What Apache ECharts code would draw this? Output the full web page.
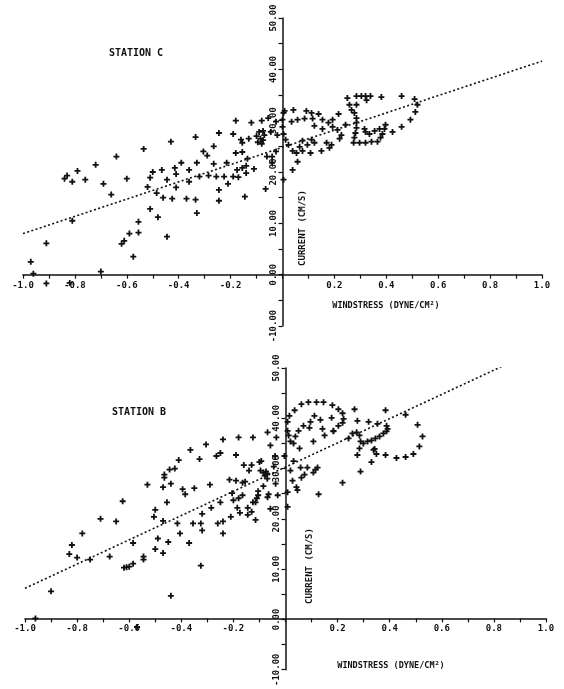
<!DOCTYPE html>
<html>
<head>
<meta charset="utf-8">
<script src="https://cdn.jsdelivr.net/npm/echarts@6/dist/echarts.min.js"></script>
<style>
	html, body { margin: 0; padding: 0; background: #fff; }
	#chart { width: 564px; height: 689px; }
</style>
</head>
<body>
<div id="chart"></div>
<script>
// tick labels
const xTickLabels = ['-1.0', '-0.8', '-0.6', '-0.4', '-0.2', '0.2', '0.4', '0.6', '0.8', '1.0'];
const yTickLabels = ['-10.00', '0.00', '10.00', '20.00', '30.00', '40.00', '50.00'];

// station C : [windstress, current]
const stationC = [
	[-0.97, 2.5], [-0.91, 6.1], [-0.96, 0.2], [-0.91, -1.7], [-0.82, -1.6], [-0.70, 0.6],
	[-0.81, 10.5], [-0.84, 18.7], [-0.83, 19.3], [-0.81, 18.1], [-0.79, 20.2], [-0.76, 18.5], [-0.72, 21.4],
	[-0.69, 17.7], [-0.66, 15.6], [-0.64, 23.0], [-0.60, 18.7],
	[-0.62, 6.0], [-0.61, 6.6], [-0.59, 8.0], [-0.555, 10.3], [-0.555, 8.2], [-0.575, 3.5],
	[-0.535, 24.5], [-0.52, 17.1], [-0.51, 18.9], [-0.50, 20.0], [-0.51, 12.8], [-0.48, 11.2], [-0.485, 15.9],
	[-0.465, 20.4], [-0.46, 15.0], [-0.445, 18.5], [-0.445, 7.4], [-0.43, 25.9], [-0.425, 14.8], [-0.41, 19.6],
	[-0.41, 17.0], [-0.415, 20.8], [-0.39, 21.8], [-0.37, 14.8], [-0.36, 20.4], [-0.36, 18.1], [-0.335, 26.8],
	[-0.335, 14.6], [-0.33, 12.0], [-0.33, 21.8], [-0.32, 19.1], [-0.305, 24.0], [-0.29, 23.2], [-0.285, 19.3],
	[-0.265, 25.0], [-0.265, 21.6], [-0.255, 19.1], [-0.245, 27.6], [-0.245, 16.5], [-0.245, 14.4], [-0.225, 19.1],
	[-0.215, 21.8], [-0.21, 17.7], [-0.19, 27.4], [-0.19, 19.1], [-0.18, 30.0], [-0.18, 23.7], [-0.175, 20.4],
	[-0.17, 19.0], [-0.16, 26.3], [-0.155, 25.7], [-0.155, 23.9], [-0.155, 20.8], [-0.14, 21.2], [-0.145, 15.2],
	[-0.14, 19.8], [-0.135, 22.6], [-0.13, 26.5], [-0.12, 29.6], [-0.11, 20.6],
	[-0.10, 27.0], [-0.09, 27.8], [-0.085, 26.5], [-0.08, 25.5], [-0.075, 26.2], [-0.07, 27.2], [-0.075, 28.0], [-0.095, 25.8],
	[-0.08, 30.0], [-0.065, 16.7], [-0.06, 23.0], [-0.055, 30.5], [-0.045, 27.8], [-0.04, 21.8], [-0.04, 23.0],
	[-0.025, 24.0], [-0.02, 27.2], [-0.025, 29.8],
	[0.008, 31.9], [0.042, 32.1], [0.092, 31.9], [0.112, 31.5], [0.139, 31.3], [0.216, 31.3], [0.035, 29.8],
	[0.058, 30.2], [0.085, 30.4], [0.116, 30.4], [0.154, 30.2], [0.193, 30.2], [0.177, 29.6], [0.243, 29.2],
	[0.123, 29.0], [0.154, 28.4], [0.193, 28.8], [0.212, 28.2], [0.227, 27.2], [0.22, 26.5], [0.077, 26.1],
	[0.112, 26.3], [0.123, 25.7], [0.096, 25.3], [0.066, 24.9], [0.17, 25.7], [0.189, 25.3], [0.181, 24.7],
	[0.15, 24.1], [0.108, 23.7], [0.077, 24.1], [0.054, 23.7], [0.039, 24.1], [0.058, 22.0], [0.039, 20.4], [0.004, 18.5],
	[0.004, 31.5], [0.0, 30.2], [0.0, 28.8], [0.004, 27.4], [0.012, 26.3], [0.023, 25.3],
	[0.25, 34.4], [0.258, 33.1], [0.266, 32.1], [0.277, 31.5], [0.285, 30.5], [0.285, 29.6], [0.285, 28.6],
	[0.281, 27.6], [0.277, 26.7], [0.274, 25.7], [0.297, 25.7], [0.32, 25.7], [0.343, 25.9], [0.366, 25.9],
	[0.378, 26.7], [0.385, 27.4], [0.393, 28.4], [0.397, 29.2],
	[0.285, 34.8], [0.304, 34.8], [0.32, 34.8], [0.339, 34.8], [0.324, 34.0], [0.285, 33.1], [0.381, 34.6],
	[0.459, 34.8], [0.509, 34.2], [0.52, 33.1], [0.512, 31.7], [0.493, 30.2], [0.459, 28.8], [0.424, 27.8],
	[0.374, 28.4], [0.355, 28.0], [0.32, 27.8], [0.335, 27.4], [0.316, 28.4],
];

// station B : [windstress, current]
const stationB = [
	[-0.96, 0.2], [-0.57, -1.5],
	[-0.90, 5.6], [-0.82, 14.8], [-0.83, 13.0], [-0.80, 12.3], [-0.78, 17.1], [-0.75, 11.9], [-0.71, 20.0],
	[-0.675, 12.5], [-0.65, 19.5], [-0.625, 23.5], [-0.62, 10.3], [-0.61, 10.4], [-0.60, 10.5], [-0.585, 11.1],
	[-0.585, 15.2], [-0.545, 11.9], [-0.545, 12.5], [-0.53, 26.8], [-0.505, 20.4], [-0.50, 21.8], [-0.50, 14.0],
	[-0.49, 16.1], [-0.47, 19.6], [-0.47, 13.2], [-0.47, 26.3], [-0.465, 28.8], [-0.465, 28.2], [-0.455, 23.3],
	[-0.45, 15.4], [-0.445, 29.8], [-0.425, 30.0], [-0.44, 4.7], [-0.44, 27.0], [-0.415, 19.1], [-0.41, 31.7],
	[-0.405, 17.1], [-0.395, 25.9], [-0.385, 24.9], [-0.365, 33.7], [-0.37, 15.2], [-0.355, 19.1], [-0.35, 26.1],
	[-0.33, 31.9], [-0.325, 10.7], [-0.325, 19.1], [-0.32, 17.7], [-0.32, 21.0], [-0.305, 34.8], [-0.29, 26.8],
	[-0.285, 22.2], [-0.265, 32.5], [-0.26, 19.1], [-0.25, 33.1], [-0.25, 23.3], [-0.24, 17.1], [-0.24, 19.5],
	[-0.24, 35.8], [-0.215, 27.8], [-0.21, 20.4], [-0.205, 25.1], [-0.20, 23.7], [-0.19, 32.7], [-0.19, 27.6],
	[-0.18, 36.2], [-0.185, 22.2], [-0.175, 21.2], [-0.18, 24.1], [-0.165, 24.7], [-0.165, 27.2], [-0.155, 27.4],
	[-0.145, 22.2], [-0.145, 20.8], [-0.16, 30.7], [-0.14, 29.6], [-0.13, 21.4], [-0.125, 23.3], [-0.13, 30.7],
	[-0.125, 36.2], [-0.115, 19.8], [-0.105, 25.5], [-0.105, 24.7], [-0.11, 24.1], [-0.115, 23.3], [-0.10, 31.3],
	[-0.093, 31.5], [-0.096, 29.6], [-0.085, 29.2], [-0.075, 29.4], [-0.08, 28.6], [-0.07, 29.0],
	[-0.069, 37.2], [-0.058, 34.6], [-0.085, 26.5], [-0.07, 28.0], [-0.065, 24.9], [-0.069, 24.3], [-0.058, 22.0],
	[-0.035, 36.2], [-0.04, 32.5], [-0.045, 30.4], [-0.038, 27.0], [-0.03, 24.7],
	[0.035, 41.6], [0.061, 42.8], [0.088, 43.2], [0.119, 43.2], [0.146, 43.2], [0.18, 42.6], [0.203, 41.8],
	[0.219, 41.0], [0.223, 39.9], [0.219, 39.1], [0.203, 38.5], [0.184, 37.5], [0.265, 41.8], [0.276, 39.5],
	[0.319, 39.3], [0.353, 38.9], [0.384, 41.6], [0.461, 40.7], [0.507, 38.7], [0.526, 36.4], [0.514, 34.4],
	[0.491, 32.9], [0.461, 32.3], [0.426, 32.1], [0.384, 32.7], [0.349, 32.9], [0.342, 33.9], [0.33, 31.3],
	[0.288, 29.4], [0.219, 27.2], [0.127, 24.9],
	[0.015, 40.5], [0.008, 39.3], [0.008, 37.5], [0.012, 36.6], [0.019, 35.4], [0.031, 35.0], [0.038, 36.4],
	[0.05, 37.5], [0.069, 38.5], [0.092, 38.1], [0.096, 39.3], [0.111, 40.5], [0.134, 39.7], [0.177, 40.1],
	[0.142, 37.9], [0.15, 36.6], [0.184, 37.4], [0.107, 35.4], [0.054, 34.0],
	[0.242, 36.0], [0.257, 37.0], [0.273, 37.2], [0.284, 36.6], [0.288, 35.4], [0.284, 34.0], [0.276, 32.7],
	[0.299, 35.0], [0.315, 35.4], [0.33, 35.6], [0.345, 36.0], [0.361, 36.4], [0.376, 37.0], [0.388, 37.4],
	[0.392, 37.9], [0.388, 38.5], [0.338, 33.7],
	[-0.004, 32.5], [0.031, 31.5], [0.058, 30.2], [0.084, 30.2], [0.115, 29.8], [0.123, 30.2], [0.019, 29.6],
	[0.107, 29.2], [0.073, 28.8], [0.061, 28.2], [0.027, 27.6], [0.042, 26.3], [0.046, 25.7], [0.008, 25.3],
	[0.008, 22.4],
];

// regression lines (end points)
const fitC = [[-1.0, 8.0], [1.0, 41.6]];
const fitB = [[-1.0, 6.2], [0.83, 50.3]];

const FONT = 'DejaVu Sans Mono';
const PLUS = 'path://M3.5,0H6.5V3.5H10V6.5H6.5V10H3.5V6.5H0V3.5H3.5Z';

// grids: axes cross at the origin, so shift them inward with offset
const grids = [
	{ left: 23, top: 18, width: 519, height: 308 },
	{ left: 25, top: 368, width: 521, height: 308 },
];

function xAxisFor(gridIndex) {
	const g = grids[gridIndex];
	return {
		type: 'value',
		gridIndex: gridIndex,
		position: 'bottom',
		offset: -g.height * 10 / 60,
		min: -1,
		max: 1,
		interval: 0.1,
		splitLine: { show: false },
		axisLine: { onZero: false, lineStyle: { color: '#111', width: 1.5 } },
		axisTick: { length: 4, lineStyle: { color: '#111', width: 1.2 } },
		axisLabel: {
			margin: 6,
			color: '#111',
			fontFamily: FONT,
			fontWeight: 'bold',
			fontSize: 9,
			showMinLabel: true,
			showMaxLabel: true,
			hideOverlap: false,
			formatter: function (v) {
				const k = Math.round(v * 10);
				if (k === 0 || k % 2 !== 0) return '';
				const s = (k / 10).toFixed(1);
				return xTickLabels.indexOf(s) >= 0 ? s : '';
			},
		},
	};
}

function yAxisFor(gridIndex) {
	const g = grids[gridIndex];
	return {
		type: 'value',
		gridIndex: gridIndex,
		position: 'left',
		offset: -g.width / 2,
		min: -10,
		max: 50,
		interval: 5,
		splitLine: { show: false },
		axisLine: { onZero: false, lineStyle: { color: '#111', width: 1.5 } },
		axisTick: { length: 4, lineStyle: { color: '#111', width: 1.2 } },
		axisLabel: {
			rotate: 90,
			margin: 4,
			color: '#111',
			fontFamily: FONT,
			fontWeight: 'bold',
			fontSize: 9,
			showMinLabel: true,
			showMaxLabel: true,
			hideOverlap: false,
			formatter: function (v) {
				if (Math.round(v) % 10 !== 0) return '';
				const s = v.toFixed(2);
				return yTickLabels.indexOf(s) >= 0 ? s : '';
			},
		},
	};
}

function scatterFor(idx, data) {
	return {
		type: 'scatter',
		xAxisIndex: idx,
		yAxisIndex: idx,
		data: data,
		symbol: PLUS,
		symbolSize: 6,
		itemStyle: { color: '#111', opacity: 1 },
		silent: true,
	};
}

function fitFor(idx, data) {
	return {
		type: 'line',
		xAxisIndex: idx,
		yAxisIndex: idx,
		data: data,
		showSymbol: false,
		silent: true,
		lineStyle: { color: '#111', width: 1.6, type: [2, 2.4] },
	};
}

function textItem(text, x, y, size, rotation) {
	return {
		type: 'text',
		x: x,
		y: y,
		rotation: rotation || 0,
		style: {
			text: text,
			fill: '#111',
			font: 'bold ' + size + 'px "' + FONT + '"',
			align: 'center',
			verticalAlign: 'middle',
		},
	};
}

const chart = echarts.init(document.getElementById('chart'));

chart.setOption({
	backgroundColor: '#fff',
	animation: false,
	grid: grids,
	xAxis: [xAxisFor(0), xAxisFor(1)],
	yAxis: [yAxisFor(0), yAxisFor(1)],
	series: [
		scatterFor(0, stationC),
		fitFor(0, fitC),
		scatterFor(1, stationB),
		fitFor(1, fitB),
	],
	graphic: [
		textItem('STATION C', 136, 53, 10),
		textItem('STATION B', 139, 412, 10),
		textItem('CURRENT (CM/S)', 303, 228, 9, Math.PI / 2),
		textItem('CURRENT (CM/S)', 310, 566, 9, Math.PI / 2),
		textItem('WINDSTRESS (DYNE/CM²)', 386, 306, 8.5),
		textItem('WINDSTRESS (DYNE/CM²)', 391, 666, 8.5),
	],
});
</script>
</body>
</html>
